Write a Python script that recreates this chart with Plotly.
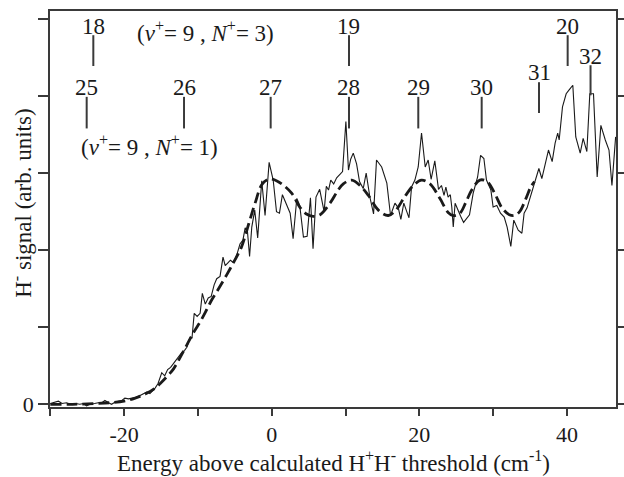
import plotly.graph_objects as go

# ---- data ----
signal_x = [-30.0, -29.5, -28.9, -28.4, -27.8, -27.2, -26.6, -26.0, -25.5, -25.1, -24.6, -24.0, -23.5,
            -23.0, -22.6, -22.1, -21.7, -21.2, -20.7, -20.3, -19.9, -19.4, -18.9, -18.4, -17.9, -17.4,
            -16.9, -16.5, -16.0, -15.8, -15.4, -14.9, -14.5, -14.1, -13.7, -13.3, -12.8, -12.2, -11.8,
            -11.5, -11.1, -10.8, -10.5, -10.1, -9.7, -9.4, -9.0, -8.6, -8.2, -7.8, -7.45, -7.0, -6.6,
            -6.3, -5.9, -5.6, -5.2, -4.7, -4.3, -3.9, -3.6, -3.3, -3.0, -2.7, -2.3, -1.9, -1.35, -0.9,
            -0.35, 0.2, 0.65, 1.05, 1.45, 2.0, 2.5, 2.9, 3.4, 3.8, 4.3, 4.8, 5.25, 5.6, 6.0, 6.5, 7.1,
            7.4, 7.7, 8.0, 8.4, 8.8, 9.25, 9.6, 10.05, 10.4, 10.7, 11.05, 11.5, 11.9, 12.4, 12.8, 13.3,
            13.8, 14.2, 14.9, 15.6, 16.1, 16.7, 17.15, 17.5, 17.9, 18.3, 18.6, 18.95, 19.4, 19.85, 20.3,
            20.8, 21.2, 21.6, 22.1, 22.6, 23.0, 23.35, 23.6, 23.9, 24.2, 24.4, 24.6, 24.85, 25.3, 25.6,
            26.0, 26.8, 27.3, 27.9, 28.3, 28.75, 29.1, 29.7, 30.0, 30.5, 31.0, 31.5, 31.9, 32.4, 32.8,
            33.4, 33.9, 34.2, 34.6, 35.1, 35.6, 36.2, 36.6, 37.1, 37.5, 38.0, 38.4, 38.75, 38.95, 39.4,
            39.9, 40.3, 40.8, 41.2, 41.8, 42.2, 42.7, 43.1, 43.6, 44.1, 44.6, 45.2, 45.7, 46.1, 46.6]
signal_y = [0.01, 0.02, 0.04, 0.01, 0.02, 0.00, 0.01, 0.00, 0.01, -0.02, 0.00, 0.01, 0.02,
            0.02, 0.05, 0.02, 0.00, 0.03, 0.04, 0.05, 0.08, 0.07, 0.08, 0.09, 0.11, 0.13,
            0.16, 0.14, 0.19, 0.21, 0.27, 0.41, 0.37, 0.45, 0.48, 0.53, 0.58, 0.67, 0.70,
            0.74, 0.86, 0.86, 1.18, 1.14, 1.18, 1.44, 1.30, 1.38, 1.40, 1.55, 1.63, 1.66, 1.91,
            1.80, 1.84, 1.87, 1.84, 1.95, 2.08, 2.13, 2.29, 2.26, 1.92, 2.30, 2.52, 2.16, 2.90, 2.45,
            3.14, 2.91, 2.50, 2.48, 2.72, 2.60, 2.48, 2.15, 2.67, 2.58, 2.17, 2.18, 2.68, 2.02, 2.69, 2.79, 2.50,
            2.83, 2.78, 2.91, 2.86, 2.94, 2.98, 3.02, 3.67, 3.04, 3.18, 3.26, 3.12, 2.89, 2.80, 3.00, 2.69,
            2.47, 3.17, 3.08, 2.87, 2.45, 2.61, 2.55, 2.40, 2.61, 2.50, 2.42, 2.82, 2.91, 3.08, 3.52,
            3.08, 3.17, 2.92, 3.16, 2.79, 2.84, 2.71, 2.82, 2.69, 2.72, 2.56, 2.30, 2.61, 2.50, 2.44,
            2.36, 2.46, 2.74, 2.95, 3.23, 3.19, 2.91, 2.78, 2.56, 2.58, 2.48, 2.43, 2.30, 2.05, 2.39,
            2.26, 2.22, 2.48, 2.55, 2.71, 2.87, 3.06, 2.93, 3.15, 3.30, 3.15, 3.39, 3.52, 3.43, 3.86,
            4.03, 4.08, 4.14, 3.47, 3.26, 3.45, 3.28, 4.03, 4.03, 2.95, 3.62, 3.43, 3.30, 2.84, 3.47]

fit_x = [-30, -27, -24, -22, -20, -18.5, -17, -15.8, -15, -14, -13.3, -12, -10.6, -9.7, -8.8, -8.1,
         -7.2, -6.1, -5.0, -4.1, -3.0, -2.25, -1.35, -0.5, 0.2, 1.35, 2.7, 3.8, 4.7, 5.6, 6.55, 7.9,
         9.0, 9.7, 10.85, 11.95, 13.1, 14.45, 15.8, 16.9, 18.0, 19.2, 20.3, 21.45, 22.8, 23.9, 24.6,
         25.5, 26.3, 27.1, 28.2, 29.2, 30.2, 31.2, 32.2, 32.9, 33.6, 34.4, 35.1, 35.6]
fit_y = [0.0, 0.0, 0.01, 0.02, 0.04, 0.08, 0.14, 0.21, 0.28, 0.38, 0.46, 0.68, 0.93, 1.07, 1.23, 1.36,
         1.50, 1.68, 1.87, 2.04, 2.38, 2.61, 2.85, 2.92, 2.92, 2.86, 2.74, 2.56, 2.47, 2.44, 2.46, 2.61,
         2.78, 2.86, 2.91, 2.84, 2.71, 2.52, 2.45, 2.53, 2.69, 2.84, 2.91, 2.86, 2.67, 2.49, 2.45,
         2.48, 2.62, 2.78, 2.91, 2.89, 2.74, 2.55, 2.46, 2.45, 2.50, 2.66, 2.82, 2.89]

# Rydberg level markers: labels and energies (cm^-1)
n3_labels = ["18", "19", "20"]
n3_energies = [-24.17, 10.47, 40.1]
n1_labels = ["25", "26", "27", "28", "29", "30", "31", "32"]
n1_energies = [-25.07, -11.88, -0.14, 10.47, 19.86, 28.45, 36.22, 43.2]

x_tickvals = [-20, 0, 20, 40]
x_ticktext = ["-20", "0", "20", "40"]
x_minor_vals = [-30, -10, 10, 30]
y_tickvals = [0]
y_ticktext = ["0"]
y_minor_vals = [1, 2, 3, 4, 5]

x_title = "Energy above calculated H<sup>+</sup>H<sup>-</sup> threshold (cm<sup>-1</sup>)"
y_title = "H<sup>-</sup> signal (arb. units)"

# ---- style ----
FONT = "Liberation Serif, Times New Roman, Times, DejaVu Serif, serif"
FS = 23
INK = "#1a1a1a"
AX = "#3a3a3a"
# (line top, line bottom, text centre) in data-y for each marker row
ROW_N3 = (4.79, 4.39, 4.90)
ROW_N1 = (3.99, 3.58, 4.11)
SPECIAL = {"31": (4.18, 3.78, 4.30), "32": (4.40, 4.01, 4.52)}

fig = go.Figure()
fig.add_trace(go.Scatter(x=signal_x, y=signal_y, mode="lines",
                         line=dict(color=INK, width=1.1), showlegend=False))
fig.add_trace(go.Scatter(x=fit_x, y=fit_y, mode="lines",
                         line=dict(color=INK, width=2.8, dash="11px,5px", shape="spline"),
                         showlegend=False))

shapes = []
annotations = []


def add_marker(label, e, row):
    top, bot, ty = SPECIAL.get(label, row)
    shapes.append(dict(type="line", xref="x", yref="y", x0=e, x1=e, y0=bot, y1=top,
                       line=dict(color=AX, width=2)))
    annotations.append(dict(x=e, y=ty, xref="x", yref="y", text=label, showarrow=False,
                            font=dict(family=FONT, size=FS, color=INK),
                            xanchor="center", yanchor="middle"))


for lab, e in zip(n3_labels, n3_energies):
    add_marker(lab, e, ROW_N3)
for lab, e in zip(n1_labels, n1_energies):
    add_marker(lab, e, ROW_N1)

annotations.append(dict(x=-8.97, y=4.84, xref="x", yref="y",
                        text="(<i>v</i><sup>+</sup>= 9 , <i>N</i><sup>+</sup>= 3)",
                        showarrow=False, font=dict(family=FONT, size=FS, color=INK),
                        xanchor="center", yanchor="middle"))
annotations.append(dict(x=-16.6, y=3.36, xref="x", yref="y",
                        text="(<i>v</i><sup>+</sup>= 9 , <i>N</i><sup>+</sup>= 1)",
                        showarrow=False, font=dict(family=FONT, size=FS, color=INK),
                        xanchor="center", yanchor="middle"))
# axis titles
annotations.append(dict(x=0.5, y=-0.138, xref="paper", yref="paper", text=x_title,
                        showarrow=False, font=dict(family=FONT, size=FS, color=INK),
                        xanchor="center", yanchor="middle"))
annotations.append(dict(x=-0.05, y=0.515, xref="paper", yref="paper", text=y_title,
                        textangle=-90, showarrow=False,
                        font=dict(family=FONT, size=FS, color=INK),
                        xanchor="center", yanchor="middle"))

fig.update_layout(
    width=624, height=477, autosize=False,
    margin=dict(l=50, r=8, t=11, b=70, autoexpand=False),
    paper_bgcolor="white", plot_bgcolor="white",
    font=dict(family=FONT, size=FS, color=INK),
    shapes=shapes, annotations=annotations,
    xaxis=dict(range=[-30.04, 46.65], tickmode="array", tickvals=x_tickvals, ticktext=x_ticktext,
               ticks="outside", ticklen=7, tickwidth=1.5, tickcolor=AX,
               minor=dict(tickmode="array", tickvals=x_minor_vals, ticks="outside",
                          ticklen=7, tickwidth=1.5, tickcolor=AX, showgrid=False),
               showline=True, linecolor=AX, linewidth=1.5, mirror=True,
               showgrid=False, zeroline=False, automargin=False,
               tickfont=dict(family=FONT, size=22, color=INK)),
    yaxis=dict(range=[-0.035, 5.104], tickmode="array", tickvals=y_tickvals, ticktext=y_ticktext,
               ticks="outside", ticklen=10, tickwidth=1.5, tickcolor=AX,
               minor=dict(tickmode="array", tickvals=y_minor_vals, ticks="outside",
                          ticklen=10, tickwidth=1.5, tickcolor=AX, showgrid=False),
               showline=True, linecolor=AX, linewidth=1.5, mirror="allticks",
               showgrid=False, zeroline=False, automargin=False,
               tickfont=dict(family=FONT, size=22, color=INK)),
)

fig.write_html("out.html")
